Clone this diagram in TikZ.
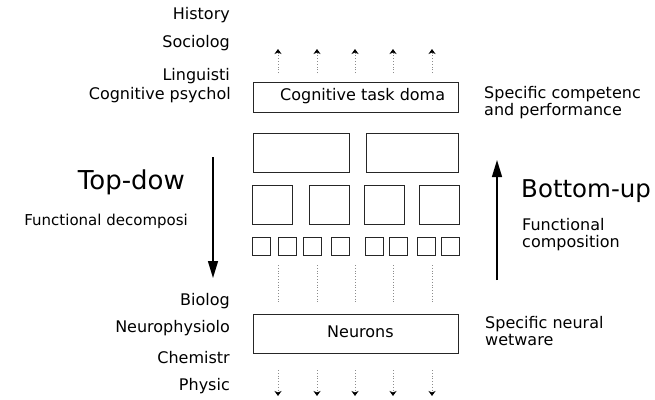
\documentclass[tikz,border=0pt]{standalone}
\usepackage{fontspec}
\setmainfont{DejaVu Sans}
\usetikzlibrary{arrows.meta}
\begin{document}
\begin{tikzpicture}[x=1pt,y=-1pt,
  box/.style={draw=black!85,line width=1pt,inner sep=0pt},
  link/.style={black!45,dotted,line width=0.8pt},
  flow/.style={link,-{Stealth[black,length=5pt,width=7pt,inset=1.5pt]}},
  updown/.style={line width=1.4pt,-{Triangle[length=17pt,width=10pt]}},
  field/.style={anchor=base east,inner sep=0pt,font=\fontsize{16}{17}\selectfont},
  note/.style={anchor=base west,inner sep=0pt,align=left,font=\fontsize{16}{17}\selectfont},
  head/.style={inner sep=0pt,font=\fontsize{26}{26}\selectfont}]
\useasboundingbox (0,0) rectangle (655,399);
% levels of description
\node[field] (hist) at (230,19) {History};
\node[field] (soc) at (230,47) {Sociolog};
\node[field] (ling) at (230,80) {Linguisti};
\node[field] (cpsy) at (231,99) {Cognitive psychol};
\node[field] (bio) at (230,305) {Biolog};
\node[field] (nphys) at (230,332) {Neurophysiolo};
\node[field] (chem) at (230,363) {Chemistr};
\node[field] (phys) at (230,390) {Physic};
% boxes
\node[box,minimum width=205pt,minimum height=30pt] (task) at (355.5,97) {};
\node[note] (tasktxt) at (280,100) {Cognitive task doma};
\node[box,minimum width=96pt,minimum height=39pt] (modL) at (301,152.5) {};
\node[box,minimum width=92pt,minimum height=39pt] (modR) at (412,152.5) {};
\foreach \x/\n in {272/a,329/b,384.5/c,439.5/d}
  \node[box,minimum width=40pt,minimum height=39pt] (sub\n) at (\x,204.5) {};
\foreach \x [count=\i] in {261,287,312.5,340,374,398.5,426,450}
  \node[box,minimum size=18pt] (unit\i) at (\x,246) {};
\node[box,minimum width=205pt,minimum height=39pt] (neur) at (355.5,333.5) {};
\node[note] (neurtxt) at (327,337) {Neurons};
% dotted links
\foreach \x [count=\i] in {278,317,355,393,432} {
  \coordinate (ts\i) at (\x,73);
  \coordinate (te\i) at (\x,49);
  \draw[flow] (ts\i) -- (te\i);
  \coordinate (ms\i) at (\x,265);
  \coordinate (me\i) at (\x,303);
  \draw[link] (ms\i) -- (me\i);
  \coordinate (bs\i) at (\x,370);
  \coordinate (be\i) at (\x,396);
  \draw[flow] (bs\i) -- (be\i);
}
% directions
\coordinate (tdtop) at (213,157);
\coordinate (tdend) at (213,278);
\draw[updown] (tdtop) -- (tdend);
\coordinate (bubot) at (497,280);
\coordinate (buend) at (497,160);
\draw[updown] (bubot) -- (buend);
\node[head,anchor=base east] (topdown) at (185,189) {Top-dow};
\node[field,font=\fontsize{15}{17}\selectfont] (decomp) at (188,225) {Functional decomposi};
\node[head,anchor=base west,font=\fontsize{24.5}{25}\selectfont] (bottomup) at (521,197) {Bottom-up};
\node[note] (comp) at (522,247) {Functional\\composition};
\node[note] (compet) at (484,115) {Specific competenc\\and performance};
\node[note] (wet) at (485,345) {Specific neural\\wetware};
\end{tikzpicture}
\end{document}
